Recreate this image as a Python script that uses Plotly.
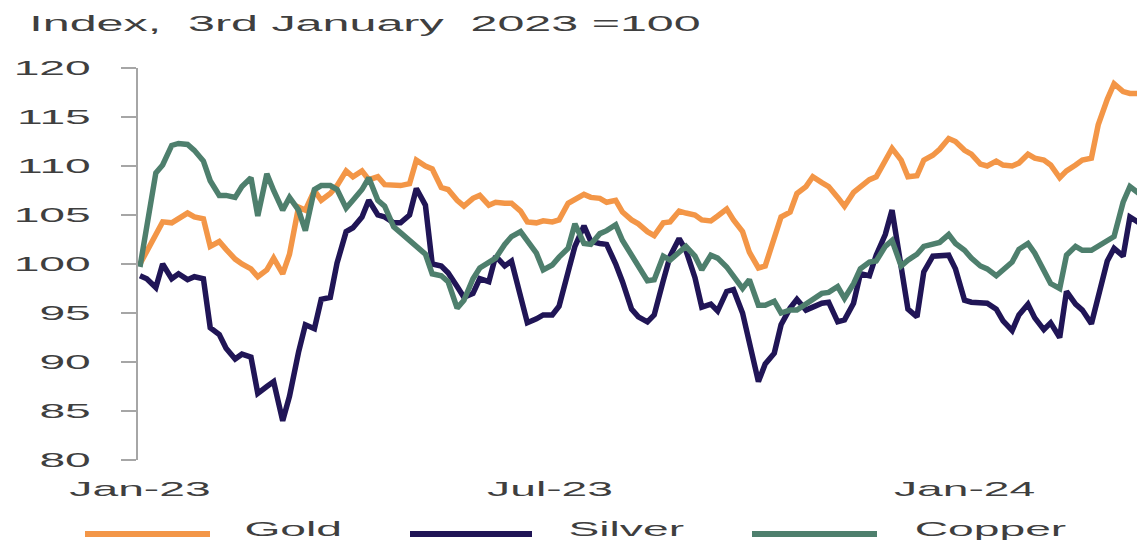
import pandas as pd
import plotly.graph_objects as go

# ---- data (index, 3 Jan 2023 = 100), sampled on Tuesdays and Fridays ----
tuesdays = pd.date_range("2023-01-03", "2024-03-19", freq="W-TUE")
fridays = pd.date_range("2023-01-06", "2024-03-15", freq="W-FRI")
dates = tuesdays.union(fridays)

gold = [
    100.0, 101.3, 103.0, 104.3, 104.2, 104.7, 105.2, 104.8, 104.6, 101.8,
    102.3, 101.5, 100.5, 100.0, 99.5, 98.7, 99.4, 100.6, 99.0, 101.0,
    105.8, 105.5, 107.5, 106.5, 107.2, 108.0, 109.5, 108.9, 109.5, 108.6,
    108.9, 108.1, 108.1, 108.0, 108.2, 110.6, 110.0, 109.7, 107.8, 107.6,
    106.5, 105.9, 106.7, 107.0, 106.0, 106.3, 106.2, 106.2, 105.4, 104.3,
    104.2, 104.4, 104.3, 104.5, 106.2, 106.6, 107.1, 106.8, 106.7, 106.3,
    106.5, 105.3, 104.5, 104.1, 103.3, 102.9, 104.2, 104.3, 105.4, 105.2,
    105.0, 104.5, 104.4, 104.9, 105.6, 104.5, 103.3, 101.2, 99.6, 99.8,
    102.5, 104.8, 105.3, 107.2, 107.9, 108.9, 108.3, 107.9, 106.8, 105.9,
    107.3, 107.8, 108.6, 108.9, 110.5, 111.8, 110.6, 108.9, 109.0, 110.6,
    111.1, 111.7, 112.8, 112.5, 111.6, 111.2, 110.2, 110.0, 110.5, 110.1,
    110.0, 110.3, 111.2, 110.8, 110.6, 110.1, 108.8, 109.5, 110.1, 110.6,
    110.8, 114.2, 116.8, 118.4, 117.6, 117.4, 117.4,
]

silver = [
    98.8, 98.5, 97.6, 100.0, 98.5, 99.0, 98.4, 98.7, 98.5, 93.5,
    92.8, 91.4, 90.3, 90.8, 90.5, 86.8, 87.5, 88.0, 84.0, 86.5,
    91.0, 93.8, 93.4, 96.4, 96.6, 100.1, 103.3, 103.7, 104.8, 106.5,
    105.0, 104.8, 104.2, 104.2, 105.0, 107.7, 106.0, 100.0, 99.8, 99.1,
    97.7, 96.6, 97.0, 98.5, 98.2, 100.8, 99.8, 100.3, 96.7, 94.0,
    94.4, 94.8, 94.8, 95.7, 99.2, 101.8, 103.9, 102.3, 102.1, 102.0,
    100.0, 98.2, 95.4, 94.6, 94.1, 94.8, 98.3, 100.8, 102.6, 101.4,
    98.6, 95.6, 95.9, 95.2, 97.2, 97.4, 95.0, 91.8, 88.0, 89.8,
    90.9, 93.8, 95.5, 96.4, 95.3, 95.6, 96.0, 96.1, 94.1, 94.3,
    96.0, 99.0, 98.8, 100.9, 103.0, 105.5, 99.5, 95.4, 94.6, 99.2,
    100.8, 100.8, 100.9, 99.5, 96.3, 96.1, 96.0, 96.0, 95.4, 94.2,
    93.2, 94.8, 95.9, 94.5, 93.3, 94.0, 92.5, 97.2, 95.9, 95.3,
    93.9, 96.5, 100.3, 101.6, 100.8, 104.8, 104.2,
]

copper = [
    99.7, 104.0, 109.3, 110.1, 112.1, 112.3, 112.2, 111.6, 110.5, 108.5,
    107.0, 107.0, 106.8, 107.9, 108.8, 104.9, 109.2, 107.5, 105.5, 106.8,
    105.5, 103.4, 107.6, 108.0, 108.0, 107.6, 105.7, 106.5, 107.6, 108.8,
    106.5, 105.9, 103.8, 103.2, 102.4, 101.8, 101.0, 99.0, 98.8, 98.2,
    95.5, 96.3, 98.5, 99.6, 100.2, 100.6, 102.0, 102.8, 103.3, 102.3,
    101.1, 99.4, 99.9, 100.7, 101.6, 104.1, 102.1, 102.0, 103.1, 103.4,
    104.0, 102.4, 101.0, 99.8, 98.3, 98.4, 100.8, 100.4, 101.3, 101.8,
    100.8, 99.4, 100.9, 100.6, 99.7, 98.7, 97.5, 98.4, 95.8, 95.8,
    96.2, 95.0, 95.3, 95.3, 95.9, 96.5, 97.0, 97.1, 97.7, 96.5,
    98.0, 99.5, 100.2, 100.3, 101.8, 102.4, 99.8, 100.4, 101.0, 101.8,
    102.1, 102.2, 103.0, 102.1, 101.4, 100.6, 99.8, 99.5, 98.8, 99.4,
    100.2, 101.5, 102.1, 101.1, 99.4, 98.0, 97.5, 100.9, 101.8, 101.4,
    101.4, 101.8, 102.4, 102.8, 106.3, 107.9, 107.2,
]

series_names = ["Gold", "Silver", "Copper"]
series_values = [gold, silver, copper]
series_colors = ["#F39647", "#201556", "#4E7F6D"]

tick_dates = ["2023-01-03", "2023-07-03", "2024-01-02"]
tick_labels = ["Jan-23", "Jul-23", "Jan-24"]
y_ticks = [80, 85, 90, 95, 100, 105, 110, 115, 120]

for v in series_values:
    assert len(v) == len(dates), (len(v), len(dates))

# ---- figure ----
W, H = 1137, 544
L, R, T, B = 138, 0, 68, 84
FONT = "Liberation Sans, Arial, sans-serif"
TXT = "#3F3F3F"
AX = "#A6A6A6"

fig = go.Figure()
for name, vals, col in zip(series_names, series_values, series_colors):
    fig.add_trace(go.Scatter(
        x=dates, y=vals, mode="lines", name=name,
        line=dict(color=col, width=5.5), showlegend=False,
    ))

# legend built under the plot (long swatches like the reference)
leg_line_px = [(85, 210), (410, 532), (752, 877)]
leg_text_center_px = [293, 626, 990]
leg_line_y_px = 534
leg_text_y_px = 528
pw = W - L - R
ph = H - T - B


def px_to_paper_x(px):
    return (px - L) / pw


def px_to_paper_y(py):
    return (H - B - py) / ph


shapes = []
annotations = []
for name, col, (x0, x1), xc in zip(series_names, series_colors, leg_line_px, leg_text_center_px):
    shapes.append(dict(type="line", xref="paper", yref="paper",
                       x0=px_to_paper_x(x0), x1=px_to_paper_x(x1),
                       y0=px_to_paper_y(leg_line_y_px), y1=px_to_paper_y(leg_line_y_px),
                       line=dict(color=col, width=6)))
    annotations.append(dict(text=name, xref="paper", yref="paper",
                            x=px_to_paper_x(xc), y=px_to_paper_y(leg_text_y_px),
                            xanchor="center", yanchor="middle", showarrow=False,
                            font=dict(family=FONT, size=21, color=TXT)))

fig.update_layout(
    width=W, height=H,
    margin=dict(l=L, r=R, t=T, b=B, pad=0),
    paper_bgcolor="white", plot_bgcolor="white",
    title=dict(text="Index,\u00a0 3rd January\u00a0 2023 =100",
               x=365 / W, xanchor="center", xref="container",
               y=1 - 23 / H, yanchor="middle", yref="container",
               font=dict(family=FONT, size=22, color=TXT)),
    shapes=shapes,
    annotations=annotations,
    xaxis=dict(
        type="date",
        range=["2023-01-02 03:00", "2024-03-18 03:00"],
        tickvals=tick_dates, ticktext=tick_labels,
        showgrid=False, zeroline=False, showline=False, ticks="",
        ticklabelstandoff=14,
        tickfont=dict(family=FONT, size=21, color=TXT),
    ),
    yaxis=dict(
        range=[80, 120], tickvals=y_ticks,
        showgrid=False, zeroline=False,
        showline=True, linecolor=AX, linewidth=2,
        ticks="outside", ticklen=15, tickcolor=AX, tickwidth=1.5,
        ticklabelstandoff=26,
        tickfont=dict(family=FONT, size=21, color=TXT),
    ),
)

post = """
document.body.style.margin = '0';
var gd = document.getElementById('{plot_id}');
var SX = 2.2;
gd.querySelectorAll('svg text').forEach(function (t) {
  if (!t.textContent || !t.textContent.trim()) return;
  var w = t.getComputedTextLength();
  if (w > 0) {
    t.setAttribute('textLength', (w * SX).toFixed(2));
    t.setAttribute('lengthAdjust', 'spacingAndGlyphs');
  }
});
"""

fig.write_html("out.html", config={"displayModeBar": False}, post_script=post)
